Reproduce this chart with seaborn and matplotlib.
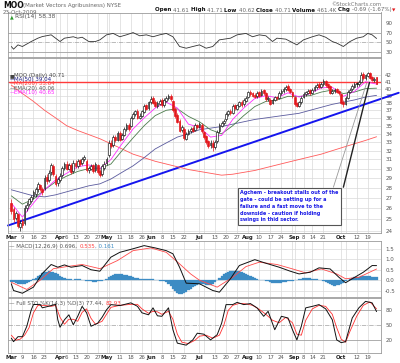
import numpy as np
import pandas as pd
import matplotlib
matplotlib.use("Agg")
import matplotlib.pyplot as plt
import seaborn as sns
from matplotlib.ticker import FixedLocator, NullLocator, FuncFormatter

sns.set_theme(style="white")
plt.rcParams['font.family'] = ['DejaVu Sans']

# ---------------- data ----------------
holidays = ["2009-04-10", "2009-05-25", "2009-07-03", "2009-09-07"]

opens = [26.5, 25.9, 25.1, 25.4, 24.3, 24.8, 24.7, 26.0, 26.4, 26.7,
         27.2, 27.4, 27.9, 28.2, 27.8, 28.0, 29.1, 28.8, 29.6, 30.2,
         29.2, 28.5, 28.8, 29.3, 30.1, 30.5, 30.0, 30.3, 29.7,
         30.6, 30.3, 30.9, 30.6, 31.0, 30.8, 29.8, 30.0, 30.3, 29.8,
         30.3, 29.7, 29.4, 30.1, 30.6, 31.5, 32.9, 32.6, 33.6, 33.3,
         34.0, 33.4, 33.9, 34.6, 35.1, 35.0, 36.0, 36.5, 36.9, 36.0,
         36.3, 36.8, 37.6, 37.3, 38.1, 38.6, 38.1, 37.6, 37.9,
         38.3, 37.7, 38.3, 38.6, 38.9, 38.2, 37.1, 36.3, 35.6, 34.5,
         34.6, 33.4, 34.0, 34.3, 34.7, 34.5, 35.0, 34.9, 35.1,
         34.2, 33.7, 33.1, 32.6, 32.9, 32.4, 33.1, 34.3, 35.0, 35.3,
         35.8, 36.5, 36.9, 36.7, 37.6, 37.2, 37.6, 38.1, 37.8, 38.3,
         38.8, 39.5, 39.3, 39.1, 38.9, 39.4, 39.1, 39.7, 39.3, 38.5,
         38.4, 38.0, 38.4, 38.8, 38.7, 39.3, 39.6, 39.9, 40.3, 39.9,
         39.4, 38.8, 37.9, 37.6, 38.1, 38.8, 39.2, 39.4, 39.7,
         39.4, 39.8, 40.2, 40.6, 40.3, 40.6, 41.1, 40.6, 40.3, 39.4,
         39.6, 39.9, 39.6, 39.2, 38.1, 37.9, 38.7, 39.5, 39.9, 40.3,
         40.7, 40.6, 41.0, 42.1, 41.5, 41.9, 42.3, 41.7, 41.2, 41.61]
highs = [26.9, 26.1, 25.8, 25.6, 24.9, 25.1, 26.3, 26.6, 27.0, 27.3,
         27.8, 28.1, 28.6, 28.4, 28.1, 29.3, 29.4, 29.8, 30.6, 30.5,
         29.4, 29.1, 29.5, 30.3, 30.7, 30.8, 30.6, 30.6, 30.9,
         30.9, 31.1, 31.1, 31.3, 31.5, 31.0, 30.3, 30.5, 30.5, 30.7,
         30.5, 30.0, 30.5, 30.8, 31.3, 33.2, 33.2, 33.8, 33.9, 34.3,
         34.3, 34.1, 34.8, 35.3, 35.4, 36.3, 36.8, 37.1, 37.2, 36.6,
         37.1, 37.8, 37.9, 38.3, 38.9, 38.9, 38.4, 38.2, 38.5,
         38.6, 38.6, 38.9, 39.2, 39.2, 38.4, 37.4, 36.6, 35.8, 35.1,
         34.8, 34.2, 34.6, 34.9, 35.0, 35.3, 35.2, 35.5, 35.3,
         34.4, 33.9, 33.3, 33.2, 33.2, 33.3, 34.5, 35.3, 35.6, 35.9,
         36.8, 37.1, 37.2, 37.8, 37.9, 37.9, 38.3, 38.4, 38.6, 38.9,
         39.7, 39.8, 39.5, 39.3, 39.6, 39.6, 39.9, 39.9, 39.5, 38.9,
         38.6, 38.7, 39.0, 39.0, 39.6, 39.9, 40.2, 40.5, 40.6, 40.1,
         39.6, 39.0, 38.1, 38.3, 38.9, 39.5, 39.7, 39.9, 39.9,
         40.1, 40.5, 40.8, 40.9, 40.9, 41.4, 41.3, 40.8, 40.5, 39.9,
         40.1, 40.1, 39.8, 39.4, 38.4, 38.9, 39.8, 40.1, 40.6, 40.9,
         40.9, 41.2, 42.4, 42.4, 42.2, 42.5, 42.5, 41.9, 41.7, 41.71]
lows = [25.5, 24.8, 24.9, 24.2, 24.0, 24.2, 24.5, 25.8, 26.2, 26.5,
        26.9, 27.1, 27.6, 27.7, 27.3, 27.8, 28.4, 28.6, 29.3, 29.2,
        28.2, 28.2, 28.6, 29.1, 29.8, 29.8, 29.8, 29.4, 29.5,
        30.1, 30.1, 30.3, 30.4, 30.8, 29.6, 29.5, 29.8, 29.5, 29.6,
        29.4, 29.1, 29.2, 29.9, 30.4, 31.3, 32.3, 32.4, 33.0, 33.1,
        33.1, 33.2, 33.7, 34.4, 34.4, 34.8, 35.8, 36.3, 35.8, 35.8,
        36.1, 36.6, 37.0, 37.1, 37.9, 37.8, 37.4, 37.3, 37.7,
        37.5, 37.5, 38.1, 38.4, 38.3, 36.8, 36.0, 35.3, 34.2, 34.2,
        33.3, 33.2, 33.8, 34.1, 34.2, 34.3, 34.6, 34.7, 34.1,
        33.4, 32.8, 32.3, 32.3, 32.0, 32.2, 32.9, 34.1, 34.8, 35.1,
        35.6, 36.3, 36.4, 36.5, 37.1, 37.0, 37.4, 37.5, 37.6, 38.1,
        38.6, 39.0, 38.8, 38.6, 38.7, 38.8, 38.9, 39.1, 38.3, 38.3,
        37.7, 37.8, 38.2, 38.4, 38.5, 39.1, 39.4, 39.7, 39.6, 39.3,
        38.7, 37.6, 37.4, 37.4, 37.9, 38.6, 39.0, 39.2, 39.1,
        39.2, 39.6, 40.0, 40.1, 40.1, 40.4, 40.3, 40.0, 39.2, 39.2,
        39.4, 39.3, 39.1, 37.8, 37.4, 37.7, 38.5, 39.3, 39.7, 40.1,
        40.3, 40.4, 40.8, 41.3, 41.3, 41.7, 41.4, 41.1, 41.0, 40.62]
closes = [25.8, 25.0, 25.5, 24.4, 24.6, 24.5, 26.0, 26.3, 26.8, 27.0,
          27.5, 27.8, 28.3, 27.9, 27.6, 29.0, 28.7, 29.5, 30.3, 29.4,
          28.4, 28.9, 29.2, 30.0, 30.4, 30.0, 30.3, 29.6, 30.6,
          30.3, 30.8, 30.5, 31.0, 31.2, 29.8, 30.0, 30.2, 29.7, 30.4,
          29.6, 29.3, 30.2, 30.5, 31.0, 32.8, 32.5, 33.5, 33.2, 34.0,
          33.3, 33.8, 34.5, 35.0, 34.6, 36.0, 36.5, 36.8, 36.0, 36.2,
          36.8, 37.5, 37.2, 38.0, 38.5, 38.0, 37.6, 37.9, 38.2,
          37.7, 38.3, 38.6, 38.9, 38.5, 37.0, 36.2, 35.5, 34.4, 34.8,
          33.5, 33.9, 34.3, 34.6, 34.4, 35.0, 34.8, 35.2, 34.3,
          33.6, 33.0, 32.5, 32.9, 32.4, 33.0, 34.2, 35.0, 35.3, 35.6,
          36.5, 36.8, 36.6, 37.5, 37.3, 37.6, 38.0, 37.7, 38.3, 38.6,
          39.4, 39.2, 39.0, 38.8, 39.3, 39.0, 39.6, 39.3, 38.5, 38.6,
          37.9, 38.4, 38.7, 38.6, 39.3, 39.6, 39.9, 40.2, 39.8, 39.5,
          38.9, 37.8, 37.6, 38.0, 38.6, 39.2, 39.4, 39.6, 39.3,
          39.8, 40.2, 40.5, 40.3, 40.6, 41.0, 40.5, 40.2, 39.4, 39.6,
          39.8, 39.5, 39.3, 38.0, 37.8, 38.6, 39.5, 39.8, 40.3, 40.6,
          40.6, 40.9, 42.0, 41.6, 41.9, 42.2, 41.6, 41.3, 41.4, 40.71]

ma_idx = [0, 5, 10, 15, 20, 25, 30, 35, 40, 45, 50, 55, 60, 65, 70, 75, 80,
          85, 90, 95, 100, 105, 110, 115, 120, 125, 130, 135, 140, 145, 150,
          155, 160, 165]
ma50 = [27.8, 27.5, 27.2, 27.1, 27.3, 27.6, 27.9, 28.2, 28.4, 28.9, 29.6,
        30.3, 31.2, 32.2, 32.9, 33.6, 34.0, 34.5, 34.7, 34.9, 35.2, 35.5,
        35.8, 36.0, 36.2, 36.4, 36.6, 37.0, 37.4, 37.8, 38.1, 38.4, 38.8, 39.04]
ma200 = [40.5, 39.3, 38.2, 37.0, 36.0, 35.0, 34.4, 33.9, 33.4, 32.8, 32.2,
         31.6, 31.2, 30.8, 30.5, 30.2, 29.9, 29.7, 29.5, 29.3, 29.4, 29.6,
         29.8, 30.1, 30.4, 30.7, 31.0, 31.3, 31.6, 32.0, 32.4, 32.8, 33.2, 33.64]
ema20 = [27.2, 26.4, 26.9, 27.8, 28.6, 29.2, 29.7, 30.0, 30.0, 30.5, 32.0,
         33.5, 35.0, 36.3, 37.0, 37.2, 36.2, 35.5, 34.5, 34.0, 35.0, 36.3,
         37.5, 38.2, 38.4, 38.9, 38.9, 39.0, 39.5, 39.8, 39.3, 39.5, 40.0, 40.06]
ema10 = [26.5, 25.2, 26.5, 27.8, 28.8, 29.5, 30.2, 30.4, 30.0, 31.0, 32.8,
         34.6, 36.0, 37.3, 38.1, 37.3, 35.2, 34.8, 33.6, 33.8, 35.8, 37.3,
         38.6, 39.0, 38.7, 39.4, 38.8, 39.3, 40.1, 40.2, 38.9, 39.6, 41.0, 40.65]

trend_idx = [-1.5, 175]
trend_val = [24.45, 39.4]
resist_level = 41.0

rsi_idx = [0, 1, 3, 5, 9, 12, 14, 18, 20, 22, 24, 28, 30, 32, 35, 38, 40, 43,
           46, 49, 52, 55, 58, 61, 64, 67, 70, 73, 76, 79, 82, 85, 88, 91, 94,
           99, 102, 106, 109, 112, 115, 118, 120, 124, 129, 132, 136, 139, 142,
           145, 147, 150, 153, 156, 159, 161, 163, 165]
rsi_val = [41.6, 36, 45, 41.6, 52, 59, 62.4, 66, 59, 52, 59, 62, 59, 61, 52,
           52, 55.5, 66, 69, 62, 66, 70.7, 64, 66, 62, 66, 69, 62, 41.6, 38,
           41.6, 45, 38, 41.6, 55.5, 59, 66, 69, 62, 66, 64, 52, 59, 57, 45,
           55.5, 62, 66, 61, 52, 48.7, 41.6, 52, 59, 62, 69, 66, 58.38]

macd_idx = [0, 1, 5, 10, 14, 18, 21, 24, 27, 32, 36, 40, 45, 49, 55, 60, 65,
            70, 73, 76, 79, 85, 91, 94, 99, 103, 108, 110, 115, 121, 126, 130,
            135, 139, 144, 148, 151, 154, 159, 163, 165]
macd_val = [-0.17, -0.49, -0.62, -0.33, 0.32, 0.75, 0.62, 0.73, 0.62, 0.7,
            0.5, 0.43, 1.1, 1.33, 1.5, 1.65, 1.54, 1.41, 1.26, 0.62, -0.14,
            -0.17, -0.49, -0.57, 0.07, 0.7, 0.9, 0.98, 0.81, 0.62, 0.43, 0.3,
            0.38, 0.59, 0.54, 0.14, -0.12, 0.07, 0.38, 0.7, 0.696]
signal_idx = [0, 7, 13, 19, 25, 32, 40, 48, 55, 63, 70, 76, 81, 85, 93, 100,
              106, 112, 120, 127, 133, 140, 147, 151, 157, 165]
signal_val = [-0.1, -0.44, 0.0, 0.55, 0.65, 0.75, 0.55, 0.94, 1.41, 1.54,
              1.33, 0.78, 0.3, 0.0, -0.33, 0.14, 0.65, 0.86, 0.75, 0.54,
              0.35, 0.54, 0.3, 0.07, 0.14, 0.535]
macd_hist = [-0.07, -0.10, -0.13, -0.16, -0.18, -0.18, -0.16, -0.12, -0.07, -0.02,
             0.05, 0.12, 0.20, 0.27, 0.33, 0.37, 0.40, 0.42, 0.41, 0.38,
             0.33, 0.28, 0.22, 0.17, 0.12, 0.08, 0.05, 0.04, 0.03, 0.04,
             0.05, 0.04, 0.02, 0.00, -0.02, -0.04, -0.06, -0.08, -0.08, -0.06,
             -0.05, -0.02, 0.02, 0.08, 0.15, 0.22, 0.27, 0.30, 0.31, 0.30,
             0.28, 0.26, 0.23, 0.20, 0.18, 0.15, 0.12, 0.10, 0.08, 0.06,
             0.05, 0.04, 0.04, 0.05, 0.04, 0.02, 0.00, -0.02, -0.03, -0.05,
             -0.10, -0.18, -0.28, -0.40, -0.52, -0.60, -0.65, -0.66, -0.62, -0.55,
             -0.48, -0.40, -0.33, -0.27, -0.22, -0.20, -0.19, -0.20, -0.22, -0.24,
             -0.22, -0.18, -0.10, 0.00, 0.10, 0.20, 0.28, 0.35, 0.40, 0.44,
             0.46, 0.46, 0.45, 0.42, 0.38, 0.34, 0.30, 0.25, 0.20, 0.15,
             0.10, 0.06, 0.03, 0.01, 0.00, -0.02, -0.05, -0.08, -0.12, -0.15,
             -0.15, -0.14, -0.12, -0.10, -0.08, -0.06, -0.04, -0.02, 0.00, 0.03,
             0.05, 0.07, 0.09, 0.10, 0.11, 0.10, 0.08, 0.06, 0.04, 0.02,
             0.00, -0.03, -0.08, -0.14, -0.20, -0.24, -0.26, -0.25, -0.22, -0.18,
             -0.12, -0.06, 0.00, 0.05, 0.10, 0.13, 0.15, 0.17, 0.18, 0.19,
             0.19, 0.18, 0.18, 0.17, 0.17, 0.161]

stok_idx = [0, 1, 3, 5, 7, 9, 10, 13, 14, 18, 20, 21, 22, 24, 26, 28, 30, 32,
            34, 36, 39, 41, 43, 45, 49, 54, 57, 59, 62, 64, 66, 68, 71, 73, 75,
            79, 82, 84, 87, 90, 93, 95, 97, 100, 102, 105, 108, 111, 114, 116,
            119, 122, 125, 127, 129, 131, 133, 136, 139, 142, 145, 147, 149,
            151, 154, 157, 160, 163, 165]
stok_val = [24, 17, 27, 27, 48, 81, 91.6, 92, 85, 89.5, 92, 61, 46, 61, 71, 51,
            68, 88, 75, 48, 54, 66, 81, 91.5, 89.5, 95, 88, 75, 71, 85, 69, 68,
            85, 41, 14, 10, 20.6, 34, 32, 20.6, 31, 54, 91.5, 91.5, 96, 91.5,
            93.6, 85, 68, 78, 41, 68, 64.6, 41, 20.6, 48, 85, 88, 91.5, 83, 61,
            20.6, 15, 17, 64.6, 85, 98, 95, 77.44]
stod_idx = [0, 2, 4, 6, 8, 10, 12, 15, 18, 20, 22, 24, 26, 28, 30, 32, 34, 36,
            38, 41, 43, 45, 49, 54, 57, 59, 62, 64, 66, 68, 71, 73, 75, 77, 80,
            83, 85, 88, 91, 94, 96, 98, 100, 103, 106, 109, 112, 115, 118, 121,
            124, 127, 129, 131, 133, 136, 139, 142, 145, 147, 149, 151, 153,
            156, 159, 162, 165]
stod_val = [30, 20, 22, 30, 45, 75, 90, 90, 88, 90, 66, 52, 62, 62, 58, 76, 83,
            64, 52, 58, 72, 86, 90, 92, 92, 83, 74, 78, 77, 72, 78, 62, 32, 16,
            13, 20, 28, 30, 24, 30, 50, 80, 90, 94, 93, 90, 82, 72, 60, 55, 66,
            55, 32, 30, 60, 83, 90, 88, 72, 45, 22, 16, 38, 68, 90, 97, 82.93]

tick_dates = ['2009-03-02', '2009-03-09', '2009-03-16', '2009-03-23', '2009-04-01',
              '2009-04-06', '2009-04-13', '2009-04-20', '2009-04-27', '2009-05-01',
              '2009-05-11', '2009-05-18', '2009-05-26', '2009-06-01', '2009-06-08',
              '2009-06-15', '2009-06-22', '2009-07-01', '2009-07-13', '2009-07-20',
              '2009-07-27', '2009-08-03', '2009-08-10', '2009-08-17', '2009-08-24',
              '2009-09-01', '2009-09-08', '2009-09-14', '2009-09-21', '2009-10-01',
              '2009-10-12', '2009-10-19']
tick_labels = ['Mar', '9', '16', '23', 'Apr', '6', '13', '20', '27', 'May', '11',
               '18', '26', 'Jun', '8', '15', '22', 'Jul', '13', '20', '27', 'Aug',
               '10', '17', '24', 'Sep', '8', '14', '21', 'Oct', '12', '19']
minor_dates = ['2009-03-30', '2009-05-04', '2009-07-06', '2009-08-31', '2009-10-05']
price_ticks = list(range(24, 43))

note = ("Agchem - breakout stalls out of the\ngate - could be setting up for a\n"
        "failure and a fast move to the\ndownside - caution if holding\n"
        "swings in thid sector.")

# ---------------- calendar ----------------
cal = pd.bdate_range("2009-03-02", "2009-10-23")
cal = cal[~cal.isin(pd.to_datetime(holidays))]
pos = {d.strftime("%Y-%m-%d"): i for i, d in enumerate(cal)}
xs = np.arange(len(cal))
tick_pos = [pos[d] for d in tick_dates]
minor_pos = [pos[d] for d in minor_dates]

W, H = 400, 363
fig = plt.figure(figsize=(W / 100, H / 100), dpi=100)
fig.patch.set_facecolor("white")


def fx(px):
    return px / W


def fy(py):
    return 1 - py / H


L, R = 8, 381


def mk(top, bot):
    return fig.add_axes([fx(L), fy(bot), fx(R) - fx(L), (bot - top) / H])


ax_r = mk(12.5, 57)
ax_p = mk(58, 233)
ax_m = mk(241, 297)
ax_s = mk(297.5, 353)

GRID = "#d9d9d9"
TICKC = "#555555"
for ax in (ax_r, ax_p, ax_m, ax_s):
    ax.set_facecolor("white")
    for sp in ax.spines.values():
        sp.set_color("#9a9a9a")
        sp.set_linewidth(0.6)
    ax.set_xlim(-1.5, 167)
    ax.xaxis.set_major_locator(FixedLocator(tick_pos))
    ax.xaxis.set_minor_locator(FixedLocator(minor_pos))
    ax.grid(axis="x", which="both", color=GRID, linewidth=0.5)
    ax.yaxis.tick_right()
    ax.tick_params(axis="y", labelsize=4.0, length=0, pad=3, labelcolor=TICKC)
    ax.tick_params(axis="x", which="both", length=0, labelsize=3.9, pad=1.5,
                   labelcolor=TICKC)
    ax.set_axisbelow(True)

for ax in (ax_r, ax_m):
    ax.set_xticklabels([])


def date_labels(ax):
    ax.set_xticklabels(tick_labels)
    for t, lab in zip(ax.get_xticklabels(), tick_labels):
        if not lab.isdigit():
            t.set_fontweight("bold")
            t.set_color("#222222")


date_labels(ax_p)
date_labels(ax_s)

# ---------------- RSI ----------------
ax_r.set_ylim(19.6, 112.8)
ax_r.set_yticks([30, 50, 70, 90])
for lv in (30, 70):
    ax_r.axhline(lv, color="#a0a0a0", lw=0.6)
ax_r.axhline(50, color="#a0a0a0", lw=0.5, ls="-.")
sns.lineplot(x=rsi_idx, y=rsi_val, ax=ax_r, color="#333333", lw=0.6,
             estimator=None, sort=False)
ax_r.text(0.004, 0.9, "\u25B2", color="#2e9a2e", fontsize=3.5,
          transform=ax_r.transAxes, va="center")
ax_r.text(0.02, 0.9, "RSI(14) 58.38", color="#555555", fontsize=4.2,
          transform=ax_r.transAxes, va="center")

# ---------------- price ----------------
ax_p.set_yscale("log")
ax_p.set_ylim(23.8, 44.65)
ax_p.yaxis.set_major_locator(FixedLocator(price_ticks))
ax_p.yaxis.set_minor_locator(NullLocator())
ax_p.yaxis.set_major_formatter(FuncFormatter(lambda v, _: f"{v:.0f}"))
ax_p.grid(axis="y", color=GRID, linewidth=0.5)

ax_p.axhline(resist_level, color="#ff3b3b", lw=1.0, zorder=2)
sns.lineplot(x=trend_idx, y=trend_val, ax=ax_p, color="#1515ee", lw=1.4,
             estimator=None, sort=False, zorder=2)
ax_p.lines[-1].set_clip_on(False)

sns.lineplot(x=ma_idx, y=ma200, ax=ax_p, color="#ff5a5a", lw=0.6,
             estimator=None, sort=False, zorder=3)
sns.lineplot(x=ma_idx, y=ma50, ax=ax_p, color="#5b5b9e", lw=0.6,
             estimator=None, sort=False, zorder=3)
sns.lineplot(x=ma_idx, y=ema20, ax=ax_p, color="#4d7d4d", lw=0.6,
             estimator=None, sort=False, zorder=3)
sns.lineplot(x=ma_idx, y=ema10, ax=ax_p, color="#ff2bff", lw=0.6,
             estimator=None, sort=False, zorder=3)

o = np.array(opens); c = np.array(closes); hi = np.array(highs); lo = np.array(lows)
prev = np.concatenate([[o[0]], c[:-1]])
cols = np.where(c < prev, "#e3161b", "#111111")
ax_p.vlines(xs, lo, hi, colors=cols, lw=0.5, zorder=4)
face = [col if cc < oo else "white" for col, cc, oo in zip(cols, c, o)]
ax_p.bar(xs, np.abs(c - o) + 0.05, bottom=np.minimum(o, c), width=0.8,
         color=face, edgecolor=cols, linewidth=0.45, zorder=5)

# annotation box and callout
ax_p.text(103.3, 27.75, note, color="#1a1ae6", fontsize=3.55, fontweight="bold",
          va="top", ha="left", linespacing=1.45, zorder=6,
          bbox=dict(boxstyle="square,pad=0.45", facecolor="white",
                    edgecolor="#555555", linewidth=0.8))
ax_p.plot([145.5, 160.5], [28.06, 40.8], color="#9a9a9a", lw=0.6, zorder=6,
          clip_on=False)
ax_p.plot([150.0, 161.8], [28.06, 40.9], color="#222222", lw=1.0, zorder=6,
          clip_on=False)

# legend texts
leg = [("\u25A0", "#444444", "MOO (Daily) 40.71", "#444444", 75.3),
       ("\u2014", "#1a1a80", "MA(50) 39.04", "#1a1a80", 79.6),
       ("\u2014", "#ff4040", "MA(200) 33.64", "#ff4040", 84.0),
       ("\u2014", "#555555", "EMA(20) 40.06", "#555555", 88.4),
       ("\u2014", "#ff22ff", "EMA(10) 40.65", "#ff22ff", 92.8)]
for sym, sc, txt, tc, py in leg:
    fig.text(fx(9.5), fy(py), sym, color=sc, fontsize=3.6, va="center",
             ha="left", zorder=10)
    fig.text(fx(14), fy(py), txt, color=tc, fontsize=4.0, va="center",
             ha="left", zorder=10)

# ---------------- MACD ----------------
ax_m.set_ylim(-0.8, 1.87)
ax_m.set_yticks([-0.5, 0.0, 0.5, 1.0, 1.5])
ax_m.yaxis.set_major_formatter(FuncFormatter(lambda v, _: f"{v:.1f}"))
ax_m.grid(axis="y", color=GRID, linewidth=0.5)
ax_m.bar(xs, macd_hist, width=1.0, color="#3d8cc4", edgecolor="#3d8cc4",
         linewidth=0.2, zorder=2)
sns.lineplot(x=signal_idx, y=signal_val, ax=ax_m, color="#ff4a4a", lw=0.6,
             estimator=None, sort=False, zorder=3)
sns.lineplot(x=macd_idx, y=macd_val, ax=ax_m, color="#111111", lw=0.7,
             estimator=None, sort=False, zorder=4)
t0 = ax_m.text(0.004, 0.9, "\u2014 MACD(12,26,9) 0.696, ", color="#555555",
               fontsize=4.0, transform=ax_m.transAxes, va="center")
t1 = ax_m.annotate("0.535", xy=(1, 0), xycoords=t0, va="bottom",
                   color="#ff4040", fontsize=4.0)
t2 = ax_m.annotate(", 0.161", xy=(1, 0), xycoords=t1, va="bottom",
                   color="#3d8cc4", fontsize=4.0)

# ---------------- STO ----------------
ax_s.set_ylim(-5.8, 105.8)
ax_s.set_yticks([20, 50, 80])
for lv in (20, 80):
    ax_s.axhline(lv, color="#a0a0a0", lw=0.6)
ax_s.axhline(50, color="#a0a0a0", lw=0.5, ls="-.")
sns.lineplot(x=stod_idx, y=stod_val, ax=ax_s, color="#ff3030", lw=0.6,
             estimator=None, sort=False, zorder=3)
sns.lineplot(x=stok_idx, y=stok_val, ax=ax_s, color="#111111", lw=0.7,
             estimator=None, sort=False, zorder=4)
s0 = ax_s.text(0.004, 0.9, "\u2014 Full STO %K(14,3) %D(3) 77.44, ",
               color="#555555", fontsize=4.0, transform=ax_s.transAxes,
               va="center")
ax_s.annotate("82.93", xy=(1, 0), xycoords=s0, va="bottom", color="#ff4040",
              fontsize=4.0)

# ---------------- header ----------------
fig.text(fx(3), fy(5.5), "MOO", fontsize=5.5, fontweight="bold",
         color="#111111", va="center")
fig.text(fx(23), fy(5.5), "(Market Vectors Agribusiness) NYSE", fontsize=4.0,
         color="#666666", va="center")
fig.text(fx(3), fy(12), "23-Oct-2009", fontsize=4.0, color="#666666",
         va="center")
fig.text(fx(381), fy(5), "\u00A9StockCharts.com", fontsize=3.8,
         color="#777777", va="center", ha="right")

parts = [("Open ", True, "#111111"), ("41.61 ", False, "#666666"),
         ("High ", True, "#111111"), ("41.71 ", False, "#666666"),
         ("Low ", True, "#111111"), ("40.62 ", False, "#666666"),
         ("Close ", True, "#111111"), ("40.71 ", False, "#666666"),
         ("Volume ", True, "#111111"), ("461.4K ", False, "#666666"),
         ("Chg ", True, "#111111"), ("-0.69 (-1.67%)", False, "#666666"),
         ("\u25BC", False, "#e3161b")]
prev_t = ax_r.text(fx(155), fy(12.5), "", fontsize=4.0, va="center",
                   transform=fig.transFigure)
for s, b, col in parts:
    prev_t = ax_r.annotate(s, xy=(1, 0), xycoords=prev_t, va="bottom",
                           fontsize=4.0 if s != "\u25BC" else 3.2,
                           fontweight="bold" if b else "normal", color=col,
                           annotation_clip=False)

fig.savefig("out.png", dpi=100, facecolor="white")
